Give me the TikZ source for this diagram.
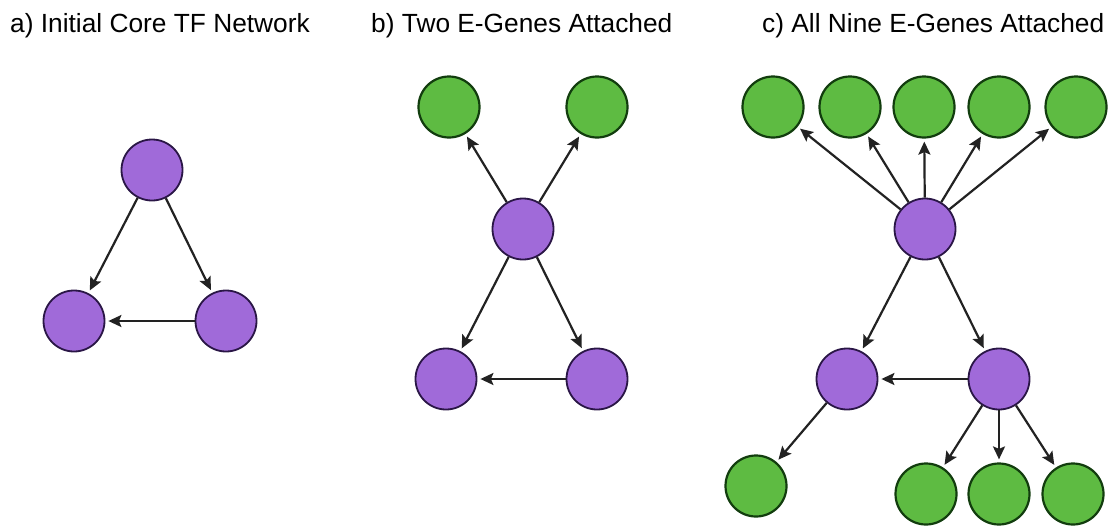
\documentclass[tikz,border=0pt]{standalone}
\usepackage{fontspec}
\setmainfont{Liberation Sans}
\usetikzlibrary{arrows.meta}
\definecolor{tfFill}{HTML}{A06AD9}
\definecolor{tfLine}{HTML}{2A1646}
\definecolor{egFill}{HTML}{5EBB42}
\definecolor{egLine}{HTML}{123D0E}
\definecolor{edgeCol}{HTML}{222222}
\tikzset{
  tf/.style={circle, draw=tfLine, line width=1.8pt, fill=tfFill, minimum size=61pt, inner sep=0pt},
  eg/.style={circle, draw=egLine, line width=2.2pt, fill=egFill, minimum size=61pt, inner sep=0pt},
  link/.style={draw=edgeCol, line width=2.2pt, shorten >=3pt,
    -{Stealth[length=13pt, width=12pt, inset=2.5pt]}},
  panelTitle/.style={anchor=base west, inner sep=0pt, font=\fontsize{26.3}{30}\selectfont}
}
\begin{document}
\begin{tikzpicture}[x=1pt, y=-1pt]
\useasboundingbox (0,0) rectangle (1118,525);

% panel titles
\node[panelTitle] (ta) at (10,32) {a) Initial Core TF Network};
\node[panelTitle] (tb) at (371,32) {b) Two E-Genes Attached};
\node[panelTitle] (tc) at (762,32) {c) All Nine E-Genes Attached};

% a) core triangle
\node[tf] (aT) at (152,170) {};
\node[tf] (aL) at (74,321) {};
\node[tf] (aR) at (226,321) {};
\draw[link] (aT) -- (aL);
\draw[link] (aT) -- (aR);
\draw[link] (aR) -- (aL);

% b) core plus two E-genes
\node[eg] (bG1) at (449,107) {};
\node[eg] (bG2) at (597,107) {};
\node[tf] (bT) at (523,229) {};
\node[tf] (bL) at (446,379) {};
\node[tf] (bR) at (597,379) {};
\draw[link] (bT) -- (bG1);
\draw[link] (bT) -- (bG2);
\draw[link] (bT) -- (bL);
\draw[link] (bT) -- (bR);
\draw[link] (bR) -- (bL);

% c) core plus nine E-genes
\node[eg] (cG1) at (773,107) {};
\node[eg] (cG2) at (850,107) {};
\node[eg] (cG3) at (924,107) {};
\node[eg] (cG4) at (999,107) {};
\node[eg] (cG5) at (1076,107) {};
\node[tf] (cT) at (925,229) {};
\node[tf] (cL) at (847,379) {};
\node[tf] (cR) at (999,379) {};
\node[eg] (cG6) at (756,486) {};
\node[eg] (cG7) at (926,494) {};
\node[eg] (cG8) at (999,494) {};
\node[eg] (cG9) at (1073,494) {};
\foreach \g in {cG1,cG2,cG3,cG4,cG5} \draw[link] (cT) -- (\g);
\draw[link] (cT) -- (cL);
\draw[link] (cT) -- (cR);
\draw[link] (cR) -- (cL);
\draw[link] (cL) -- (cG6);
\foreach \g in {cG7,cG8,cG9} \draw[link] (cR) -- (\g);
\end{tikzpicture}
\end{document}
